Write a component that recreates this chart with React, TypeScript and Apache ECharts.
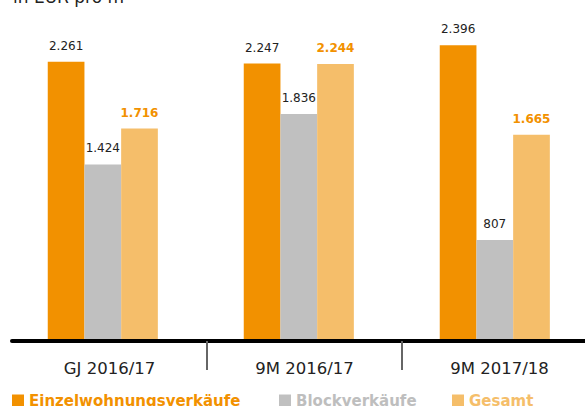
import React, { useEffect, useRef } from "react";
import * as echarts from "echarts";

const categories = ["GJ 2016/17", "9M 2016/17", "9M 2017/18"];
const einzelwohnungsverkaeufe = [2261, 2247, 2396];
const blockverkaeufe = [1424, 1836, 807];
const gesamt = [1716, 2244, 1665];
const seriesNames = ["Einzelwohnungsverkäufe", "Blockverkäufe", "Gesamt"];
const unitLabel = "in EUR pro m²";

const ORANGE = "#F29100";
const GRAY = "#C0C0C0";
const LIGHT = "#F5BE6A";
const FONT = "DejaVu Sans";

const fmt = (v: number) => String(v).replace(/\B(?=(\d{3})+(?!\d))/g, ".");

export default function App() {
  const ref = useRef<HTMLDivElement>(null);
  useEffect(() => {
    if (!ref.current) return;
    const chart = echarts.init(ref.current, undefined, { renderer: "svg" });
    const baseLabel = {
      show: true,
      position: "top" as const,
      distance: 10,
      fontFamily: FONT,
      fontSize: 12,
      color: "#222",
      formatter: (p: any) => fmt(p.value),
    };
    const legendItem = (name: string, color: string, left: number) => ({
      left,
      top: 393,
      orient: "horizontal",
      icon: "rect",
      itemWidth: 12,
      itemHeight: 12,
      padding: 0,
      data: [{ name, textStyle: { color } }],
      textStyle: { fontFamily: FONT, fontSize: 15, fontWeight: "bold", color },
      selectedMode: false,
    });
    chart.setOption({
      animation: false,
      graphic: [
        {
          type: "text",
          left: 13,
          top: -12,
          style: { text: unitLabel, fontFamily: FONT, fontSize: 17, fill: "#222" },
        },
      ],
      legend: [
        legendItem(seriesNames[0], ORANGE, 12),
        legendItem(seriesNames[1], "#BEBEBE", 279),
        legendItem(seriesNames[2], LIGHT, 452),
      ],
      grid: [
        { left: 12, right: -12, top: 34.5, bottom: 65, outerBoundsMode: "none", containLabel: false },
        { left: 4.8, right: -7.8, top: 32.5, bottom: 67, outerBoundsMode: "none", containLabel: false },
      ],
      xAxis: [
        {
          type: "category",
          gridIndex: 0,
          data: categories,
          axisLine: { show: true, lineStyle: { color: "#000", width: 4 } },
          axisTick: {
            show: true,
            length: 29,
            interval: (i: number) => i !== 0,
            lineStyle: { color: "#666", width: 2 },
          },
          axisLabel: { margin: 19, fontFamily: FONT, fontSize: 16.5, color: "#222" },
        },
        {
          type: "category",
          gridIndex: 1,
          data: categories,
          show: false,
        },
      ],
      yAxis: [
        { type: "value", gridIndex: 0, min: 0, max: 2500, show: false },
        { type: "value", gridIndex: 1, min: 0, max: 2500, show: false },
      ],
      series: [
        {
          name: seriesNames[0],
          type: "bar",
          xAxisIndex: 1,
          yAxisIndex: 1,
          data: einzelwohnungsverkaeufe,
          barWidth: 36.7,
          barGap: "0%",
          itemStyle: { color: ORANGE },
          label: baseLabel,
        },
        {
          name: seriesNames[1],
          type: "bar",
          xAxisIndex: 1,
          yAxisIndex: 1,
          data: blockverkaeufe,
          barWidth: 36.7,
          barGap: "0%",
          itemStyle: { color: GRAY },
          label: baseLabel,
        },
        {
          name: seriesNames[2],
          type: "bar",
          xAxisIndex: 1,
          yAxisIndex: 1,
          data: gesamt,
          barWidth: 36.7,
          barGap: "0%",
          itemStyle: { color: LIGHT },
          label: { ...baseLabel, color: ORANGE, fontWeight: "bold" },
        },
      ],
    });
    return () => chart.dispose();
  }, []);
  return (
    <div
      ref={ref}
      style={{ position: "fixed", left: 0, top: 0, width: 585, height: 406, background: "#fff" }}
    />
  );
}
